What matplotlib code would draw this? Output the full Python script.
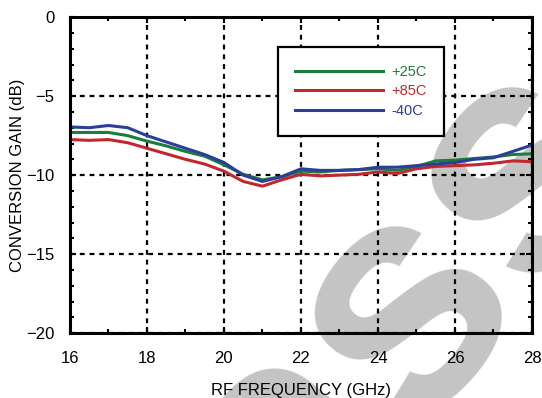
import numpy as np
import matplotlib
matplotlib.use("Agg")
import matplotlib.pyplot as plt
from matplotlib.ticker import MultipleLocator

plt.rcParams['font.family'] = ['Liberation Sans', 'DejaVu Sans']

# Данные
freq = [16, 16.5, 17, 17.5, 18, 18.5, 19, 19.5, 20, 20.5, 21, 21.5, 22,
        22.5, 23, 23.5, 24, 24.5, 25, 25.5, 26, 26.5, 27, 27.5, 28]
gain_25 = [-7.3, -7.3, -7.3, -7.5, -7.85, -8.15, -8.5, -8.8, -9.35, -9.95, -10.3,
           -10.1, -9.75, -9.8, -9.7, -9.65, -9.6, -9.7, -9.45, -9.1, -9.05,
           -8.95, -8.85, -8.7, -8.65]
gain_85 = [-7.75, -7.8, -7.75, -7.95, -8.3, -8.65, -9.0, -9.3, -9.75, -10.4, -10.7,
           -10.3, -9.95, -10.05, -10.0, -9.95, -9.8, -9.9, -9.6, -9.45, -9.4,
           -9.35, -9.25, -9.1, -9.15]
gain_m40 = [-6.95, -7.0, -6.86, -7.0, -7.5, -7.9, -8.3, -8.7, -9.2, -10.0, -10.4,
            -10.1, -9.6, -9.7, -9.7, -9.65, -9.5, -9.5, -9.4, -9.3, -9.2,
            -9.0, -8.9, -8.5, -8.1]
labels = ['+25C', '+85C', '-40C']
colors = ['#1b7d3c', '#c1272d', '#2b3f99']

fig = plt.figure(figsize=(5.42, 3.98), dpi=100)
ax = fig.add_axes([0.129, 0.163, 0.8525, 0.794])
ax.patch.set_alpha(0)
ax.set_zorder(1)

# водяной знак на фоне
fig.text(0.75, 0.22, 'ass', fontsize=235, fontweight='bold', color='#c4c4c4',
         rotation=50, ha='center', va='center', zorder=0)

for y, lab, c in zip([gain_25, gain_85, gain_m40], labels, colors):
    ax.plot(freq, y, color=c, lw=2.2, label=lab)

ax.set_xlim(16, 28)
ax.set_ylim(-20, 0)
ax.xaxis.set_major_locator(MultipleLocator(2))
ax.xaxis.set_minor_locator(MultipleLocator(1))
ax.yaxis.set_major_locator(MultipleLocator(5))
ax.yaxis.set_minor_locator(MultipleLocator(1))
ax.tick_params(which='both', direction='in', top=True, right=True,
               labelsize=12, width=1.5)
ax.tick_params(which='major', length=4)
ax.tick_params(axis='y', which='major', pad=11)
ax.tick_params(axis='x', which='major', pad=13)
ax.tick_params(which='minor', length=3)
ax.grid(True, which='major', color='black', linestyle=(0, (2.2, 2.2)), lw=1.6)
for s in ax.spines.values():
    s.set_linewidth(2.2)

ax.set_xlabel('RF FREQUENCY (GHz)', fontsize=12, labelpad=12)
ax.set_ylabel('CONVERSION GAIN (dB)', fontsize=12)
ax.yaxis.set_label_coords(-0.097, 0.5)

leg = ax.legend(loc='upper left', bbox_to_anchor=(0.45, 0.905), fancybox=False,
                edgecolor='black', framealpha=1, fontsize=10.5, labelcolor='linecolor',
                handlelength=6.0, borderpad=1.2, labelspacing=0.4, handletextpad=0.6,
                borderaxespad=0)
leg.get_frame().set_linewidth(1.6)

fig.savefig('out.png', dpi=100)
